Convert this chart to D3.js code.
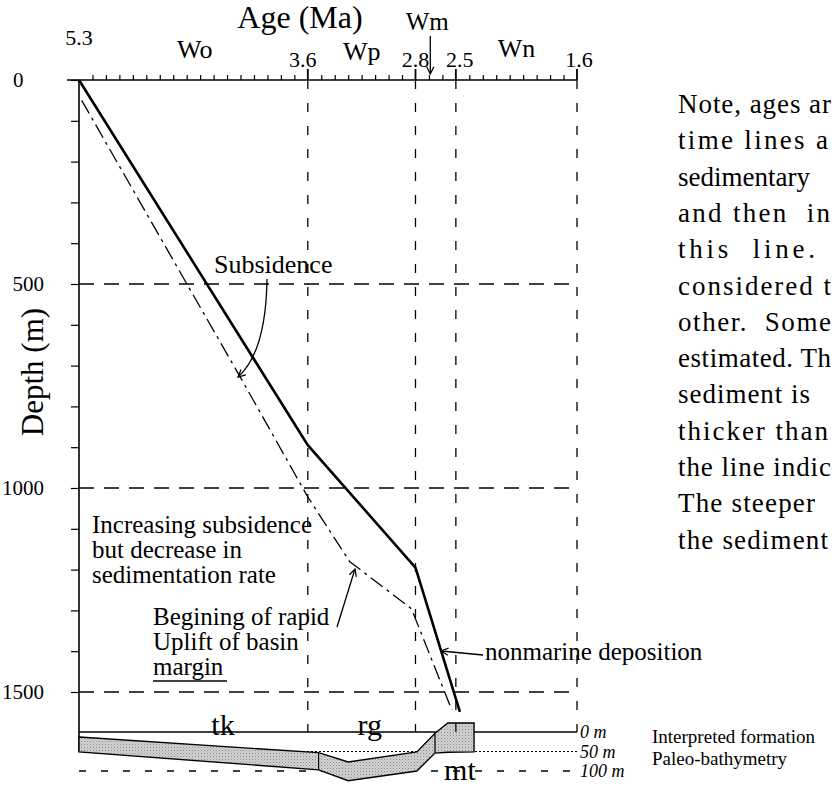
<!DOCTYPE html>
<html><head><meta charset="utf-8">
<script src="https://cdn.jsdelivr.net/npm/d3@7"></script>
<style>
html,body{margin:0;padding:0;background:#fff;}
svg{display:block;font-family:"Liberation Serif","Times New Roman",serif;}
</style></head><body>
<svg id="chart" width="833" height="788"></svg>
<script>
// Age boundaries (Ma) on the top axis
const ageTicks = [5.3, 3.6, 2.8, 2.5, 1.6];
const ageTickLabels = ["5.3", "3.6", "2.8", "2.5", "1.6"];
// Stage names and the ages they sit over
const stageNames = ["Wo", "Wp", "Wn"];
const stageAges = [4.44, 3.2, 2.05];
const wmName = "Wm";
const wmAge = 2.69;
// Depth axis
const depthTicks = [0, 500, 1000, 1500];
const depthLabels = ["0", "500", "1000", "1500"];
// Burial curve (solid)
const burialAges = [5.3, 3.6, 2.8, 2.47];
const burialDepths = [0, 895, 1195, 1549];
// Subsidence curve (dash-dot)
const subsAges = [5.28, 4.09, 3.6, 3.29, 2.83, 2.53];
const subsDepths = [50, 735, 1022, 1180, 1296, 1544];
// Paleo-bathymetry band, metres below sea level (negative = above)
const bathAges = [5.3, 3.52, 3.3, 2.79, 2.655, 2.56, 2.365];
const bathShallow = [13, 53, 77, 51, 3, -23, -23];
const bathDeep = [51, 97, 125, 100, 54, 52, 51];
const formationNames = ["tk", "rg", "mt"];
const formationAges = [4.23, 3.14, 2.47];
const formationBounds = [3.52, 2.655];
const bathLevels = [0, 50, 100];
const bathLevelLabels = ["0 m", "50 m", "100 m"];
// Side note (justified lines, running off the right edge)
const noteLines = ["Note, ages ar", "time lines a", "sedimentary", "and then  in",
  "this  line.", "considered t", "other.  Some", "estimated. Th", "sediment is",
  "thicker than", "the line indic", "The steeper", "the sediment"];

const svg = d3.select("#chart");
const x = d3.scaleLinear().domain([5.3, 1.6]).range([79, 577]);
const y = d3.scaleLinear().domain([0, 1500]).range([80, 692]);
const yb = d3.scaleLinear().domain([0, 100]).range([732, 771]);

const defs = svg.append("defs");
defs.append("marker").attr("id", "arr").attr("viewBox", "0 0 10 10")
  .attr("refX", 9).attr("refY", 5).attr("markerWidth", 9).attr("markerHeight", 9)
  .attr("markerUnits", "userSpaceOnUse").attr("orient", "auto")
  .append("path").attr("d", "M1,1 L9,5 L1,9").attr("fill", "none")
  .attr("stroke", "#000").attr("stroke-width", 1.4);
const pat = defs.append("pattern").attr("id", "stip").attr("width", 3).attr("height", 3)
  .attr("patternUnits", "userSpaceOnUse");
pat.append("rect").attr("width", 3).attr("height", 3).attr("fill", "#d2d2d2");
pat.append("rect").attr("width", 1).attr("height", 1).attr("fill", "#8c8c8c");
pat.append("rect").attr("x", 1.5).attr("y", 1.5).attr("width", 1).attr("height", 1).attr("fill", "#a8a8a8");

// Dashed grid
const xL = x(5.3), xR = x(1.6);
svg.append("g").selectAll("line").data(depthTicks.slice(1)).join("line")
  .attr("x1", xL).attr("x2", xR).attr("y1", d => y(d)).attr("y2", d => y(d))
  .attr("stroke", "#000").attr("stroke-width", 1.3).attr("stroke-dasharray", "15,10");
svg.append("g").selectAll("line").data(ageTicks.slice(1)).join("line")
  .attr("x1", d => x(d)).attr("x2", d => x(d)).attr("y1", y(0)).attr("y2", yb(0))
  .attr("stroke", "#000").attr("stroke-width", 1.3).attr("stroke-dasharray", "9,14");

// Top axis
const minor = d3.range(53, 15, -1).map(v => v / 10).filter(v => !ageTicks.includes(v));
const topAxis = svg.append("g").attr("transform", `translate(0,${y(0)})`);
topAxis.call(d3.axisTop(x).tickValues(minor).tickSize(5).tickSizeOuter(0).tickFormat(""));
topAxis.select(".domain").attr("d", `M67,0H${xR}`).attr("stroke-width", 1.5);
topAxis.selectAll(".tick line").attr("stroke-width", 1.2);
topAxis.append("g").selectAll("line").data(ageTicks.slice(1)).join("line")
  .attr("x1", d => x(d)).attr("x2", d => x(d)).attr("y1", 0).attr("y2", -11)
  .attr("stroke", "#000").attr("stroke-width", 1.8);
const tickShift = [0, -5, 0, 4, 2];
svg.append("g").selectAll("text").data(ageTickLabels).join("text")
  .attr("x", (d, i) => x(ageTicks[i]) + tickShift[i]).attr("y", (d, i) => i === 0 ? 45 : 67)
  .attr("text-anchor", "middle").attr("font-size", 22).text(d => d);
svg.append("g").selectAll("text").data(stageNames).join("text")
  .attr("x", (d, i) => x(stageAges[i])).attr("y", (d, i) => [58, 60, 57][i])
  .attr("text-anchor", "middle").attr("font-size", 26).text(d => d);
svg.append("text").attr("x", x(wmAge) - 3).attr("y", 30).attr("text-anchor", "middle")
  .attr("font-size", 25).text(wmName);
svg.append("line").attr("x1", x(wmAge)).attr("x2", x(wmAge)).attr("y1", 36).attr("y2", 74)
  .attr("stroke", "#000").attr("stroke-width", 1.3).attr("marker-end", "url(#arr)");
svg.append("text").attr("x", 300).attr("y", 28).attr("text-anchor", "middle")
  .attr("font-size", 32).text("Age (Ma)");

// Left axis
const leftAxis = svg.append("g").attr("transform", `translate(${xL},0)`);
leftAxis.call(d3.axisLeft(y).tickValues(d3.range(0, 1501, 100)).tickSize(8).tickFormat(""));
leftAxis.select(".domain").attr("d", `M0,${y(0)}V${yb(50)}`).attr("stroke-width", 1.6);
leftAxis.selectAll(".tick line").attr("stroke-width", 1.2);
svg.append("g").selectAll("text").data(depthLabels).join("text")
  .attr("x", (d, i) => i === 0 ? 13 : 44).attr("y", (d, i) => y(depthTicks[i]) + 7)
  .attr("text-anchor", (d, i) => i === 0 ? "start" : "end").attr("font-size", 21).text(d => d);
svg.append("text").attr("transform", `translate(43,${372}) rotate(-90)`)
  .attr("text-anchor", "middle").attr("font-size", 31).text("Depth (m)");

// Curves
const line = d3.line().x(d => x(d[0])).y(d => y(d[1]));
svg.append("path").datum(subsAges.map((a, i) => [a, subsDepths[i]])).attr("d", line)
  .attr("fill", "none").attr("stroke", "#000").attr("stroke-width", 1.3)
  .attr("stroke-dasharray", "15,5,3,5");
svg.append("path").datum(burialAges.map((a, i) => [a, burialDepths[i]])).attr("d", line)
  .attr("fill", "none").attr("stroke", "#000").attr("stroke-width", 2.6);

// Paleo-bathymetry reference levels
svg.append("line").attr("x1", xL).attr("x2", xR).attr("y1", yb(0)).attr("y2", yb(0))
  .attr("stroke", "#000").attr("stroke-width", 1.6);
svg.append("line").attr("x1", xL).attr("x2", xR).attr("y1", yb(50)).attr("y2", yb(50))
  .attr("stroke", "#000").attr("stroke-width", 1.2).attr("stroke-dasharray", "2,2");
svg.append("line").attr("x1", xL).attr("x2", xR).attr("y1", yb(100)).attr("y2", yb(100))
  .attr("stroke", "#000").attr("stroke-width", 1.3).attr("stroke-dasharray", "7,15");

// Band
const band = bathAges.map((a, i) => [a, bathShallow[i], bathDeep[i]]);
const upper = d3.line().x(d => x(d[0])).y(d => yb(d[1]))(band);
const lower = band.slice().reverse().map(d => [x(d[0]), yb(d[2])].join(",")).join("L");
svg.append("path").attr("d", upper + "L" + lower + "Z")
  .attr("fill", "url(#stip)").attr("stroke", "#000").attr("stroke-width", 1.4);
formationBounds.forEach(b => {
  const i = bathAges.indexOf(b);
  svg.append("line").attr("x1", x(b)).attr("x2", x(b))
    .attr("y1", yb(bathShallow[i])).attr("y2", yb(bathDeep[i]))
    .attr("stroke", "#000").attr("stroke-width", 1.2);
});
svg.append("line").attr("x1", x(2.5)).attr("x2", x(2.5)).attr("y1", yb(-23)).attr("y2", yb(0))
  .attr("stroke", "#000").attr("stroke-width", 1.2);
svg.append("g").selectAll("text").data(formationNames).join("text")
  .attr("x", (d, i) => x(formationAges[i])).attr("y", (d, i) => i === 2 ? 780 : 735)
  .attr("text-anchor", "middle").attr("font-size", 30).text(d => d);
svg.append("g").selectAll("text").data(bathLevelLabels).join("text")
  .attr("x", 580).attr("y", (d, i) => yb(bathLevels[i]) + 6)
  .attr("font-size", 18).attr("font-style", "italic").text(d => d);
svg.append("text").attr("x", 652).attr("y", 743).attr("font-size", 19).text("Interpreted formation");
svg.append("text").attr("x", 652).attr("y", 765).attr("font-size", 19).text("Paleo-bathymetry");

// Annotations
const ann = svg.append("g").attr("font-size", 25);
ann.append("text").attr("x", 214).attr("y", 273).attr("font-size", 26).text("Subsidence");
ann.append("path").attr("d", "M267,279 Q266,352 238,377").attr("fill", "none")
  .attr("stroke", "#000").attr("stroke-width", 1.3).attr("marker-end", "url(#arr)");
["Increasing subsidence", "but decrease in", "sedimentation rate"].forEach((t, i) =>
  ann.append("text").attr("x", 92).attr("y", 533 + i * 25).text(t));
["Begining of rapid", "Uplift of basin", "margin"].forEach((t, i) =>
  ann.append("text").attr("x", 153).attr("y", 625 + i * 25).text(t));
ann.append("line").attr("x1", 153).attr("x2", 227).attr("y1", 681).attr("y2", 681)
  .attr("stroke", "#000").attr("stroke-width", 1.4);
ann.append("line").attr("x1", 337).attr("y1", 627).attr("x2", 355).attr("y2", 569)
  .attr("stroke", "#000").attr("stroke-width", 1.3).attr("marker-end", "url(#arr)");
ann.append("text").attr("x", 485).attr("y", 660).text("nonmarine deposition");
ann.append("line").attr("x1", 483).attr("y1", 655).attr("x2", 441).attr("y2", 651)
  .attr("stroke", "#000").attr("stroke-width", 1.3).attr("marker-end", "url(#arr)");

// Side note: each line spread to its justified width
const noteWidths = [153, 150, 0, 152, 137, 153, 153, 153, 132, 150, 153, 137, 150];
svg.append("g").selectAll("text").data(noteLines).join("text")
  .attr("x", 678).attr("y", (d, i) => 113 + i * 36.3).attr("font-size", 27)
  .style("white-space", "pre")
  .each(function (d, i) {
    if (noteWidths[i]) d3.select(this).attr("textLength", noteWidths[i]).attr("lengthAdjust", "spacing");
  })
  .text(d => d);
</script>
</body></html>
